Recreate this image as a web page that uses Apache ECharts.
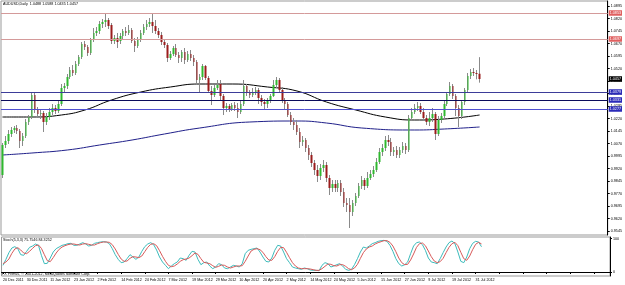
<!DOCTYPE html>
<html><head><meta charset="utf-8">
<script src="https://cdn.jsdelivr.net/npm/echarts@6/dist/echarts.min.js"></script>
<style>html,body{margin:0;padding:0;background:#fff}#c{width:625px;height:285px}</style>
</head><body><div id="c"></div>
<script>
// trading days per month
const monthDays = [
  ['Dec 2011', [20,21,22,23,26,27,28,29,30]],
  ['Jan 2012', [2,3,4,5,6,9,10,11,12,13,16,17,18,19,20,23,24,25,26,27,30,31]],
  ['Feb 2012', [1,2,3,6,7,8,9,10,13,14,15,16,17,20,21,22,23,24,27,28,29]],
  ['Mar 2012', [1,2,5,6,7,8,9,12,13,14,15,16,19,20,21,22,23,26,27,28,29,30]],
  ['Apr 2012', [2,3,4,5,6,9,10,11,12,13,16,17,18,19,20,23,24,25,26,27,30]],
  ['May 2012', [1,2,3,4,7,8,9,10,11,14,15,16,17,18,21,22,23,24,25,28,29,30,31]],
  ['Jun 2012', [1,4,5,6,7,8,11,12,13,14,15,18,19,20,21,22,25,26,27,28,29]],
  ['Jul 2012', [2,3,4,5,6,9,10,11,12,13,16,17,18,19,20,23,24,25,26,27,30,31]],
  ['Aug 2012', [1,2]]
];
const openP = [0.9881,1.0061,1.0085,1.0127,1.0151,1.0163,1.0145,1.0085,1.0115,1.0199,
1.0229,1.0361,1.0271,1.0247,1.0253,1.0199,1.0229,1.0259,1.0283,1.0265,
1.0307,1.0403,1.0415,1.0469,1.0511,1.0493,1.0547,1.0589,1.0667,1.0649,
1.0613,1.0691,1.0733,1.0745,1.0787,1.0799,1.0811,1.0781,1.0685,1.0703,
1.0685,1.0715,1.0745,1.0733,1.0751,1.0685,1.0655,1.0691,1.0733,1.0769,
1.0787,1.0799,1.0775,1.0745,1.0721,1.0679,1.0661,1.0583,1.0607,1.0643,
1.0601,1.0583,1.0619,1.0571,1.0607,1.0583,1.0559,1.0451,1.0469,1.0535,
1.0463,1.0385,1.0361,1.0403,1.0427,1.0355,1.0283,1.0295,1.0277,1.0301,
1.0283,1.0259,1.0307,1.0415,1.0379,1.0361,1.0379,1.0391,1.0343,1.0319,
1.0307,1.0331,1.0355,1.0421,1.0451,1.0391,1.0331,1.0307,1.0241,1.0199,
1.0181,1.0139,1.0079,1.0091,1.0043,1.0001,0.9953,0.9911,0.9875,0.9923,
0.9941,0.9863,0.9803,0.9827,0.9803,0.9833,0.9779,0.9713,0.9701,0.9659,
0.9713,0.9755,0.9815,0.9851,0.9815,0.9863,0.9887,0.9911,0.9959,1.0019,
1.0043,1.0091,1.0079,1.0019,1.0031,1.0001,1.0031,1.0055,1.0031,1.0223,
1.0259,1.0283,1.0295,1.0259,1.0223,1.0199,1.0223,1.0247,1.0127,1.0211,
1.0235,1.0307,1.0367,1.0415,1.0355,1.0283,1.0235,1.0319,1.0391,1.0475,
1.0499,1.0493,1.0488];
const closeP = [1.0061,1.0085,1.0127,1.0151,1.0163,1.0145,1.0085,1.0115,1.0199,1.0229,
1.0361,1.0271,1.0247,1.0253,1.0199,1.0229,1.0259,1.0283,1.0265,1.0307,
1.0403,1.0415,1.0469,1.0511,1.0493,1.0547,1.0589,1.0667,1.0649,1.0613,
1.0691,1.0733,1.0745,1.0787,1.0799,1.0811,1.0775,1.0685,1.0703,1.0679,
1.0715,1.0745,1.0733,1.0751,1.0685,1.0655,1.0691,1.0733,1.0769,1.0787,
1.0799,1.0775,1.0745,1.0721,1.0679,1.0661,1.0583,1.0607,1.0643,1.0601,
1.0583,1.0619,1.0571,1.0607,1.0583,1.0559,1.0451,1.0469,1.0535,1.0463,
1.0385,1.0361,1.0403,1.0421,1.0355,1.0283,1.0295,1.0277,1.0301,1.0283,
1.0259,1.0307,1.0415,1.0379,1.0361,1.0379,1.0391,1.0343,1.0319,1.0307,
1.0331,1.0355,1.0421,1.0451,1.0391,1.0331,1.0307,1.0241,1.0199,1.0181,
1.0139,1.0079,1.0091,1.0043,1.0001,0.9953,0.9911,0.9875,0.9923,0.9941,
0.9863,0.9803,0.9827,0.9803,0.9833,0.9779,0.9713,0.9701,0.9659,0.9713,
0.9755,0.9815,0.9851,0.9815,0.9863,0.9887,0.9911,0.9959,1.0019,1.0043,
1.0091,1.0079,1.0019,1.0031,1.0001,1.0031,1.0055,1.0031,1.0223,1.0259,
1.0283,1.0295,1.0259,1.0223,1.0199,1.0223,1.0247,1.0127,1.0211,1.0235,
1.0307,1.0367,1.0415,1.0355,1.0283,1.0235,1.0319,1.0391,1.0475,1.0499,
1.0493,1.0487,1.0457];
const lowP = [0.9863,1.0043,1.0067,1.0109,1.0133,1.0127,1.0043,1.0055,1.0103,1.0181,
1.0217,1.0253,1.0229,1.0217,1.0139,1.0181,1.0211,1.0241,1.0247,1.0253,
1.0295,1.0373,1.0397,1.0457,1.0475,1.0481,1.0535,1.0577,1.0631,1.0595,
1.0601,1.0679,1.0715,1.0727,1.0763,1.0769,1.0757,1.0667,1.0667,1.0643,
1.0667,1.0691,1.0715,1.0721,1.0673,1.0619,1.0643,1.0679,1.0721,1.0751,
1.0769,1.0733,1.0727,1.0703,1.0661,1.0643,1.0559,1.0571,1.0595,1.0589,
1.0553,1.0559,1.0547,1.0559,1.0565,1.0535,1.0421,1.0379,1.0451,1.0451,
1.0373,1.0301,1.0349,1.0391,1.0331,1.0241,1.0259,1.0259,1.0265,1.0265,
1.0223,1.0247,1.0295,1.0355,1.0343,1.0349,1.0361,1.0307,1.0295,1.0271,
1.0283,1.0313,1.0349,1.0403,1.0379,1.0313,1.0271,1.0229,1.0181,1.0151,
1.0121,1.0043,1.0055,1.0019,0.9971,0.9929,0.9881,0.9839,0.9851,0.9899,
0.9839,0.9761,0.9779,0.9779,0.9779,0.9755,0.9689,0.9659,0.9563,0.9635,
0.9695,0.9743,0.9797,0.9791,0.9803,0.9851,0.9869,0.9899,0.9947,0.9995,
1.0025,1.0055,0.9995,0.9995,0.9983,0.9983,1.0013,1.0007,1.0019,1.0205,
1.0247,1.0265,1.0247,1.0205,1.0181,1.0175,1.0199,1.0091,1.0115,1.0193,
1.0223,1.0295,1.0355,1.0337,1.0235,1.0169,1.0217,1.0301,1.0379,1.0457,
1.0475,1.0455,1.0435];
const highP = [1.0073,1.0115,1.0151,1.0169,1.0175,1.0181,1.0157,1.0133,1.0217,1.0241,
1.0379,1.0379,1.0289,1.0277,1.0265,1.0253,1.0283,1.0307,1.0301,1.0325,
1.0427,1.0433,1.0487,1.0529,1.0541,1.0565,1.0601,1.0679,1.0685,1.0661,
1.0703,1.0763,1.0769,1.0805,1.0817,1.0847,1.0823,1.0793,1.0721,1.0733,
1.0733,1.0757,1.0769,1.0781,1.0763,1.0703,1.0709,1.0751,1.0787,1.0811,
1.0823,1.0853,1.0811,1.0763,1.0739,1.0691,1.0673,1.0625,1.0655,1.0667,
1.0619,1.0631,1.0643,1.0625,1.0631,1.0601,1.0571,1.0487,1.0547,1.0541,
1.0475,1.0415,1.0421,1.0451,1.0451,1.0367,1.0313,1.0307,1.0313,1.0319,
1.0313,1.0331,1.0451,1.0427,1.0391,1.0403,1.0409,1.0403,1.0361,1.0337,
1.0343,1.0367,1.0451,1.0469,1.0463,1.0409,1.0343,1.0319,1.0259,1.0223,
1.0211,1.0163,1.0115,1.0103,1.0061,1.0019,0.9971,0.9941,0.9947,0.9971,
0.9959,0.9881,0.9851,0.9851,0.9851,0.9851,0.9803,0.9743,0.9743,0.9731,
0.9773,0.9833,0.9875,0.9863,0.9899,0.9911,0.9935,0.9983,1.0043,1.0067,
1.0115,1.0121,1.0103,1.0049,1.0055,1.0049,1.0079,1.0073,1.0241,1.0283,
1.0307,1.0319,1.0313,1.0283,1.0241,1.0259,1.0283,1.0259,1.0235,1.0253,
1.0325,1.0379,1.0439,1.0427,1.0367,1.0301,1.0331,1.0403,1.0493,1.0517,
1.0523,1.0511,1.0588];

// moving averages read at sample bars
const maBlackIdx = [0,10,20,28,37,47,57,67,78,90,100,110,120,130,140,150,162];
const maBlackVal = [1.0229,1.0229,1.0241,1.0271,1.0331,1.0379,1.0409,1.0427,1.0427,1.0409,1.0385,1.0319,1.0271,1.0229,1.0211,1.0217,1.0241];
const maNavyIdx = [0,10,22,33,44,55,67,84,100,110,122,140,150,162];
const maNavyVal = [1.0001,1.0013,1.0031,1.0061,1.0091,1.0127,1.0163,1.0199,1.0205,1.0193,1.0163,1.0151,1.0157,1.0169];

const stochK = [20,38,58,72,76,70,52,50,62,74,78,84,80,50,25,26,42,60,70,75,
80,82,85,86,80,80,84,88,84,78,80,86,88,90,91,90,85,70,52,38,
28,30,40,52,45,38,45,62,76,84,88,82,66,45,30,20,10,18,25,30,
42,40,35,50,62,60,38,22,28,30,18,10,15,25,22,12,10,15,20,18,
15,25,55,65,68,70,72,60,45,32,30,42,65,80,78,60,40,28,15,12,
10,8,12,10,6,5,5,4,20,28,25,15,18,22,25,18,8,5,8,22,
40,60,75,72,78,85,88,92,94,95,92,80,62,40,25,18,22,30,55,78,
88,90,82,65,42,30,28,25,40,58,75,88,93,85,60,32,28,45,70,86,
92,90,75.7546];
const stochD = [25,30,39,56,69,73,66,57,55,62,71,79,81,71,52,34,31,43,57,68,
75,79,82,84,84,82,81,84,85,83,81,81,85,88,90,90,89,82,69,53,
39,32,33,41,46,45,43,48,61,74,83,85,79,64,47,32,20,16,18,24,
32,37,39,42,49,57,53,40,29,27,25,19,14,17,21,20,15,12,15,18,
18,19,32,48,63,68,70,67,59,46,36,35,46,62,74,73,59,43,28,18,
12,10,10,10,9,7,5,5,10,17,24,23,19,18,22,22,17,10,7,12,
23,41,58,69,75,78,84,88,91,94,94,89,78,61,42,28,22,23,36,54,
74,85,87,79,63,46,33,28,31,41,58,74,85,89,79,59,40,35,48,67,
83,89,84.3252];

const priceTicks = ['1.0895','1.0820','1.0745','1.0670','1.0595','1.0520','1.0445','1.0370','1.0295','1.0220',
'1.0145','1.0070','0.9995','0.9920','0.9845','0.9770','0.9695','0.9620','0.9545'];
const redLevels = [1.0853, 1.0697];
const blueLevels = [1.0379, 1.0331, 1.0277];
const blueLineColors = ['#3d3d99', '#0c0c5c', '#5050d0'];
const lastPrice = 1.0457;
const headerText = 'AUDUSD,Daily  1.0488 1.0588 1.0435 1.0457';
const stochText = 'Stoch(5,3,3) 75.7546 84.3252';
const copyText = 'FX Primus, \u00a9 2001-2012, MetaQuotes Software Corp.';

// ---- build ----
const dates = [];
monthDays.forEach(([m, days]) => days.forEach(d => dates.push(d + ' ' + m)));
const totalSlots = 206;
const cats = dates.slice();
for (let k = dates.length; k < totalSlots; k++) cats.push('pad' + k);

const wicks = dates.map((_, i) => [openP[i], closeP[i], lowP[i], highP[i]]);
const bodies = dates.map((_, i) => [openP[i], closeP[i], openP[i], closeP[i]]);
function sparse(idx, val) {
  const a = new Array(dates.length).fill(null);
  idx.forEach((k, j) => { a[k] = val[j]; });
  return a;
}
const FS = 3.7, FF = 'Liberation Sans, Arial, sans-serif';

function levelItem(v, lineColor, boxColor, hideLine) {
  return {
    yAxis: v,
    lineStyle: { color: hideLine ? 'rgba(0,0,0,0)' : lineColor, width: 1, type: 'solid' },
    label: {
      show: true, position: 'end', distance: 1, formatter: v.toFixed(4),
      color: '#fff', backgroundColor: boxColor, fontSize: FS, fontFamily: FF,
      padding: [1, 1, 0.5, 1]
    }
  };
}
const markData = [];
redLevels.forEach(v => markData.push(levelItem(v, '#d49a9a', '#e06060')));
blueLevels.forEach((v, j) => markData.push(levelItem(v, blueLineColors[j], '#2a2ab8')));
markData.push(levelItem(lastPrice, null, '#000', true));

const chart = echarts.init(document.getElementById('c'), null, { renderer: 'canvas' });
chart.setOption({
  animation: false,
  backgroundColor: '#fff',
  grid: [
    { left: 1, right: 15, top: 1, height: 234, show: true, borderColor: '#999', borderWidth: 1 },
    { left: 1, right: 15, top: 237, height: 39, show: true, borderColor: '#999', borderWidth: 1 }
  ],
  xAxis: [
    { type: 'category', gridIndex: 0, data: cats, boundaryGap: true,
      axisLine: { show: false }, axisTick: { show: false }, axisLabel: { show: false }, splitLine: { show: false } },
    { type: 'category', gridIndex: 1, data: cats, boundaryGap: true,
      axisLine: { show: true, lineStyle: { color: '#000', width: 1 } },
      axisTick: { show: true, interval: 7, length: 2, alignWithLabel: true, lineStyle: { color: '#000' } },
      axisLabel: { show: true, interval: 7, align: 'left', fontSize: FS, fontFamily: FF, color: '#000', margin: 2,
        formatter: (v, i) => (i < dates.length ? v : '') },
      splitLine: { show: false } }
  ],
  yAxis: [
    { type: 'value', gridIndex: 0, position: 'right', min: 0.9521, max: 1.0925, scale: true,
      axisLine: { show: true, lineStyle: { color: '#000', width: 1 } },
      axisTick: { show: true, length: 2, customValues: priceTicks.map(Number), lineStyle: { color: '#000' } },
      axisLabel: { show: true, customValues: priceTicks.map(Number), formatter: v => v.toFixed(4),
        fontSize: FS, fontFamily: FF, color: '#000', margin: 3 },
      splitLine: { show: false } },
    { type: 'value', gridIndex: 1, position: 'right', min: -12, max: 105,
      axisLine: { show: true, lineStyle: { color: '#000', width: 1 } },
      axisTick: { show: true, length: 2, customValues: [0, 100], lineStyle: { color: '#000' } },
      axisLabel: { show: true, customValues: [0, 100], fontSize: FS, fontFamily: FF, color: '#000', margin: 3 },
      splitLine: { show: false } }
  ],
  series: [
    { type: 'line', name: 'MA200', xAxisIndex: 0, yAxisIndex: 0, data: sparse(maNavyIdx, maNavyVal),
      connectNulls: true, smooth: 0.5, showSymbol: false, lineStyle: { color: '#20208a', width: 1 }, z: 1 },
    { type: 'line', name: 'MA100', xAxisIndex: 0, yAxisIndex: 0, data: sparse(maBlackIdx, maBlackVal),
      connectNulls: true, smooth: 0.5, showSymbol: false, lineStyle: { color: '#000', width: 1 }, z: 1 },
    { type: 'candlestick', name: 'wick', xAxisIndex: 0, yAxisIndex: 0, data: wicks, barWidth: 1,
      itemStyle: { color: '#8a8a8a', color0: '#8a8a8a', borderColor: '#8a8a8a', borderColor0: '#8a8a8a', borderWidth: 1 },
      markLine: { symbol: 'none', silent: true, animation: false, precision: 4, data: markData }, z: 3 },
    { type: 'candlestick', name: 'body', xAxisIndex: 0, yAxisIndex: 0, data: bodies, barWidth: 2,
      itemStyle: { color: '#2fb82f', color0: '#9a1c1c', borderColor: '#2fb82f', borderColor0: '#9a1c1c', borderWidth: 0 }, z: 4 },
    { type: 'line', name: '%K', xAxisIndex: 1, yAxisIndex: 1, data: stochK, showSymbol: false,
      lineStyle: { color: '#3cbcbc', width: 1 } },
    { type: 'line', name: '%D', xAxisIndex: 1, yAxisIndex: 1, data: stochD, showSymbol: false,
      lineStyle: { color: '#d85a5a', width: 1 } }
  ],
  graphic: [
    { type: 'text', left: 3, top: 2, style: { text: headerText, fontSize: FS, fontFamily: FF, fill: '#000' }, z: 10 },
    { type: 'text', left: 3, top: 238, style: { text: stochText, fontSize: FS, fontFamily: FF, fill: '#000' }, z: 10 },
    { type: 'text', left: 2, top: 271.5, style: { text: copyText, fontSize: FS, fontFamily: FF, fill: '#000' }, z: 10 }
  ]
});
</script></body></html>
